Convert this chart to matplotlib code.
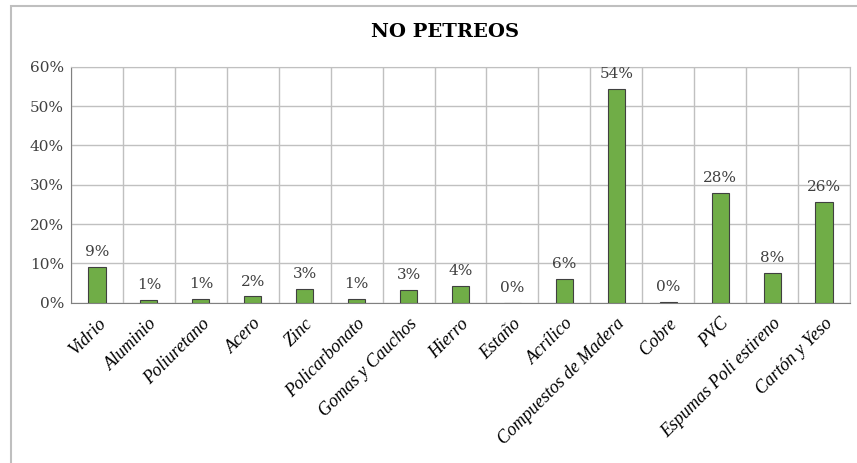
import matplotlib
matplotlib.use("Agg")
import numpy as np
from matplotlib import pyplot as plt
from matplotlib.patches import Rectangle

materiales = ["Vidrio", "Aluminio", "Poliuretano", "Acero", "Zinc", "Policarbonato",
              "Gomas y Cauchos", "Hierro", "Estaño", "Acrílico", "Compuestos de Madera",
              "Cobre", "PVC", "Espumas Poli estireno", "Cartón y Yeso"]
porcentajes = [9.0, 0.6, 1.0, 1.6, 3.4, 1.0, 3.2, 4.3, 0.0, 6.0, 54.3, 0.2, 27.8, 7.6, 25.7]
etiquetas = ["9%", "1%", "1%", "2%", "3%", "1%", "3%", "4%", "0%", "6%",
             "54%", "0%", "28%", "8%", "26%"]

fig = plt.figure(figsize=(8.57, 4.63), dpi=100)
fig.patches.append(Rectangle((11 / 857, -0.1), 1.0, 1 - 6 / 463 + 0.1,
                             transform=fig.transFigure, fill=False,
                             edgecolor="#bfbfbf", linewidth=1.5))

ax = fig.add_axes([71 / 857, 1 - 302.7 / 463, 779 / 857, 236 / 463])
x = np.arange(len(materiales))
ax.bar(x, porcentajes, width=0.33, color="#70ad47", edgecolor="#404040",
       linewidth=0.8, zorder=3)

for xi, v, t in zip(x, porcentajes, etiquetas):
    ax.text(xi, v + 2.0, t, ha="center", va="bottom", fontsize=11,
            family="DejaVu Serif", color="#404040")

ax.set_xlim(-0.5, len(materiales) - 0.5)
ax.set_ylim(0, 60)
ax.set_yticks(np.arange(0, 61, 10))
ax.set_yticklabels([f"{v}%" for v in range(0, 61, 10)], fontsize=11,
                   family="DejaVu Serif", color="#404040")
ax.set_xticks(x)
ax.set_xticklabels(materiales, rotation=45, ha="right", rotation_mode="anchor",
                   fontsize=13, family="Liberation Serif", style="italic")
ax.set_xticks(np.arange(-0.5, len(materiales), 1), minor=True)
ax.tick_params(axis="x", which="both", length=0, pad=9)
ax.tick_params(axis="y", length=0, pad=5)
ax.grid(axis="y", which="major", color="#c0c0c0", linewidth=1, zorder=0)
ax.grid(axis="x", which="minor", color="#c0c0c0", linewidth=1, zorder=0)
for s in ["top", "right"]:
    ax.spines[s].set_color("#c0c0c0")
for s in ["left", "bottom"]:
    ax.spines[s].set_color("#808080")

fig.text(445 / 857, 1 - 32 / 463, "NO PETREOS", ha="center", va="center",
         fontsize=14, fontweight="bold", family="DejaVu Serif")

fig.savefig("out.png", dpi=100)
